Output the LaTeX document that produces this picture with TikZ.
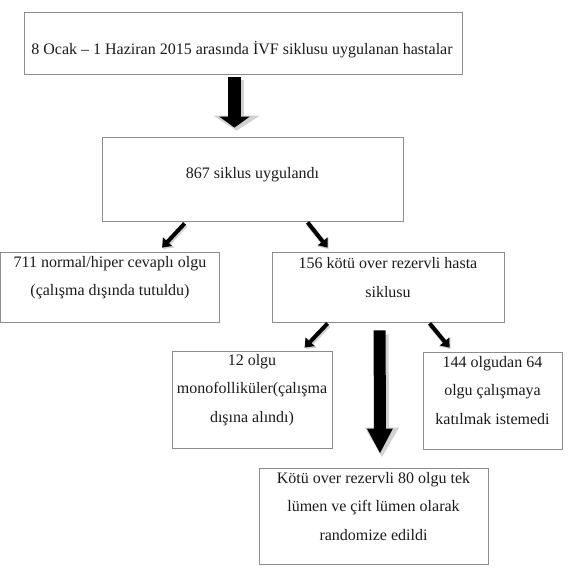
\documentclass[tikz,border=0pt]{standalone}
\usepackage{fontspec}
\setmainfont{Liberation Serif}
\usepackage{xcolor}
\usepackage{tikz}
\usetikzlibrary{arrows.meta}
\definecolor{boxgray}{HTML}{8C8C8C}
\definecolor{shade}{HTML}{D2D2D2}
\definecolor{ink}{HTML}{1A1A1A}

\begin{document}
\begin{tikzpicture}[
    x=1pt, y=-1pt,
    box/.style={draw=boxgray, line width=0.8pt, inner sep=0pt},
    txt/.style={align=center, inner sep=0pt, text=ink, font=\fontsize{16}{28.5}\selectfont},
    fatone/.style={draw=black, line width=13pt, -{Triangle[width=30pt,length=11pt]}},
    fatoneshade/.style={draw=shade, line width=15pt, -{Triangle[width=46pt,length=15pt]}},
    fattwo/.style={draw=black, line width=12pt, -{Triangle[width=24pt,length=25pt]}},
    fattwoshade/.style={draw=shade, line width=14pt, -{Triangle[width=32pt,length=30pt]}},
    thin/.style={draw=black, line width=4pt, -{Triangle[width=12pt,length=8pt]}},
    thinshade/.style={draw=shade, line width=5pt, -{Triangle[width=14pt,length=9pt]}}
]
\useasboundingbox (0,0) rectangle (571,573);

\node[box, minimum width=438pt, minimum height=62pt] (b1) at (243,43) {};
\node[txt] (t1) at (242,50) {8 Ocak – 1 Haziran 2015 arasında İVF siklusu uygulanan hastalar};

\node[box, minimum width=301pt, minimum height=84pt] (b2) at (252.5,179) {};
\node[txt] (t2) at (252.5,175) {867 siklus uygulandı};

\node[box, minimum width=219pt, minimum height=70pt] (b3) at (110,287) {};
\node[txt] (t3) at (110,277.5) {711 normal/hiper cevaplı olgu\\(çalışma dışında tutuldu)};

\node[box, minimum width=232pt, minimum height=70pt] (b4) at (388,287) {};
\node[txt] (t4) at (388,277.5) {156 kötü over rezervli hasta\\siklusu};

\node[box, minimum width=160pt, minimum height=97pt] (b5) at (252,399.5) {};
\node[txt] (t5) at (252,390) {12 olgu\\monofolliküler(çalışma\\dışına alındı)};

\node[box, minimum width=139pt, minimum height=97pt] (b6) at (492.5,400.5) {};
\node[txt] (t6) at (492.5,390.5) {144 olgudan 64\\olgu çalışmaya\\katılmak istemedi};

\node[box, minimum width=229pt, minimum height=96pt] (b7) at (373.5,516) {};
\node[txt] (t7) at (373.5,506.5) {Kötü over rezervli 80 olgu tek\\lümen ve çift lümen olarak\\randomize edildi};

\draw[fatoneshade, transform canvas={shift={(2pt,-3pt)}}] ([xshift=-8.5pt,yshift=-3pt]b1.south) -- ([xshift=-18pt,yshift=9pt]b2.north);
\draw[fatone] ([xshift=-8.5pt,yshift=-3pt]b1.south) -- ([xshift=-18pt,yshift=9pt]b2.north);

\draw[thinshade, transform canvas={shift={(1pt,-1.5pt)}}] ([xshift=83pt,yshift=-2pt]b2.south west) -- ([xshift=162pt,yshift=4pt]b3.north west);
\draw[thin] ([xshift=83pt,yshift=-2pt]b2.south west) -- ([xshift=162pt,yshift=4pt]b3.north west);
\draw[thinshade, transform canvas={shift={(1pt,-1.5pt)}}] ([xshift=206pt,yshift=-1pt]b2.south west) -- ([xshift=56pt,yshift=4pt]b4.north west);
\draw[thin] ([xshift=206pt,yshift=-1pt]b2.south west) -- ([xshift=56pt,yshift=4pt]b4.north west);

\draw[thinshade, transform canvas={shift={(1pt,-1.5pt)}}] ([xshift=56pt,yshift=-1pt]b4.south west) -- ([xshift=133pt,yshift=3pt]b5.north west);
\draw[thin] ([xshift=56pt,yshift=-1pt]b4.south west) -- ([xshift=133pt,yshift=3pt]b5.north west);
\draw[thinshade, transform canvas={shift={(1pt,-1.5pt)}}] ([xshift=158pt,yshift=-1pt]b4.south west) -- ([xshift=27pt,yshift=4pt]b6.north west);
\draw[thin] ([xshift=158pt,yshift=-1pt]b4.south west) -- ([xshift=27pt,yshift=4pt]b6.north west);

\draw[fattwoshade, transform canvas={shift={(2pt,-4pt)}}] ([xshift=108pt,yshift=-8pt]b4.south west) -- ([xshift=6.5pt,yshift=14pt]b7.north);
\draw[fattwo] ([xshift=108pt,yshift=-8pt]b4.south west) -- ([xshift=6.5pt,yshift=14pt]b7.north);
\end{tikzpicture}
\end{document}
